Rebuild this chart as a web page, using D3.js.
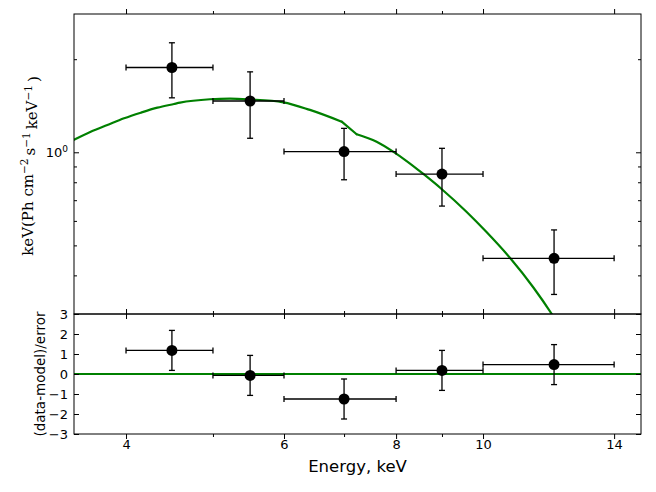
<!DOCTYPE html>
<html>
<head>
<meta charset="utf-8">
<script src="https://cdn.jsdelivr.net/npm/d3@7/dist/d3.min.js"></script>
<style>
  html, body { margin: 0; padding: 0; background: #fff; }
  svg { display: block; }
</style>
</head>
<body>
<script>
// ---- data ----
const energy   = [4.5, 5.5, 7.0, 9.0, 12.0];
const binLo    = [4, 5, 6, 8, 10];
const binHi    = [5, 6, 8, 10, 14];
const flux     = [1.88, 1.465, 1.005, 0.85, 0.454];
const fluxErr  = [0.38, 0.355, 0.19, 0.18, 0.107];
const resid    = [1.18, -0.07, -1.25, 0.18, 0.47];
const residErr = [1, 1, 1, 1, 1];

// model below the iron edge
const modelE1 = [3.5, 3.653, 3.813, 3.98, 4.154, 4.335, 4.524, 4.595, 4.962, 5.224, 5.499, 5.99, 6.413, 6.958];
const modelF1 = [1.098, 1.166, 1.226, 1.288, 1.343, 1.394, 1.433, 1.447, 1.484, 1.491, 1.482, 1.451, 1.371, 1.256];
// model above the iron edge
const modelE2 = [7.23, 7.61, 7.94, 8.22, 8.58, 8.99, 9.59, 10.09, 10.72, 11.38, 11.93, 12.5];
const modelF2 = [1.144, 1.082, 1.005, 0.937, 0.851, 0.761, 0.641, 0.552, 0.455, 0.3654, 0.3, 0.242];

const xTickVals   = [4, 6, 8, 10, 14];
const xTickLabels = ["4", "6", "8", "10", "14"];
const xMinorVals  = [5, 7, 9];
const yTopMajor   = [1];
const yTopMinor   = [0.3, 0.4, 0.5, 0.6, 0.7, 0.8, 0.9, 2];
const yBotTicks   = [-3, -2, -1, 0, 1, 2, 3];

// ---- layout ----
const W = 656, H = 492;
const L = 74, R = 641, T = 14, MID = 314, B = 434;
const GREEN = "#008000";
const MAJ = 5, MIN = 3;

const svg = d3.select("body").append("svg").attr("width", W).attr("height", H);

const x = d3.scaleLog().domain([3.5, 15]).range([L, R]);
const yT = d3.scaleLog().domain([0.3, 2.8]).range([MID, T]);
const yB = d3.scaleLinear().domain([-3, 3]).range([B, MID]);

svg.append("defs").append("clipPath").attr("id", "clipTop")
  .append("rect").attr("x", L).attr("y", T).attr("width", R - L).attr("height", MID - T);

// ---- model curve (top) ----
const smooth = d3.line().x(d => x(d[0])).y(d => yT(d[1])).curve(d3.curveMonotoneX);
const straight = d3.line().x(d => x(d[0])).y(d => yT(d[1]));
const seg1 = modelE1.map((e, i) => [e, modelF1[i]]);
const seg2 = modelE2.map((e, i) => [e, modelF2[i]]);
const gModel = svg.append("g").attr("clip-path", "url(#clipTop)")
  .attr("fill", "none").attr("stroke", GREEN).attr("stroke-width", 2.2)
  .attr("stroke-linejoin", "round").attr("stroke-linecap", "round");
gModel.append("path").attr("d", smooth(seg1));
gModel.append("path").attr("d", straight([seg1[seg1.length - 1], seg2[0]]));
gModel.append("path").attr("d", smooth(seg2));

// ---- zero line (bottom) ----
svg.append("line")
  .attr("x1", L).attr("x2", R).attr("y1", yB(0)).attr("y2", yB(0))
  .attr("stroke", GREEN).attr("stroke-width", 2);

// ---- error bars & points ----
function drawPoints(yScale, vals, errs) {
  const g = svg.append("g").attr("stroke", "#000").attr("stroke-width", 1.3);
  const cap = 3;
  vals.forEach((v, i) => {
    const cx = x(energy[i]), cy = yScale(v);
    const x0 = x(binLo[i]), x1 = x(binHi[i]);
    const yU = yScale(v + errs[i]), yD = yScale(v - errs[i]);
    g.append("line").attr("x1", x0).attr("x2", x1).attr("y1", cy).attr("y2", cy);
    g.append("line").attr("x1", x0).attr("x2", x0).attr("y1", cy - cap).attr("y2", cy + cap);
    g.append("line").attr("x1", x1).attr("x2", x1).attr("y1", cy - cap).attr("y2", cy + cap);
    g.append("line").attr("x1", cx).attr("x2", cx).attr("y1", yU).attr("y2", yD);
    g.append("line").attr("x1", cx - cap).attr("x2", cx + cap).attr("y1", yU).attr("y2", yU);
    g.append("line").attr("x1", cx - cap).attr("x2", cx + cap).attr("y1", yD).attr("y2", yD);
  });
  svg.append("g").selectAll("circle").data(vals).join("circle")
    .attr("cx", (d, i) => x(energy[i])).attr("cy", d => yScale(d))
    .attr("r", 5.5).attr("fill", "#000");
}
drawPoints(yT, flux, fluxErr);
drawPoints(yB, resid, residErr);

// ---- axes ----
function styleAxis(g) {
  g.select(".domain").remove();
  g.selectAll(".tick line").attr("stroke", "#000").attr("stroke-width", 1);
  g.selectAll("text").attr("fill", "#000")
    .style("font-family", "'DejaVu Sans', sans-serif").style("font-size", "13px");
}
function ticksOnly(axis, yPos, xPos, vals, size) {
  const g = svg.append("g").attr("transform", `translate(${xPos},${yPos})`)
    .call(axis.tickValues(vals).tickSize(size).tickFormat(""));
  styleAxis(g);
  return g;
}
// x ticks, both panels, top and bottom edges
[[T, 1], [MID, -1], [MID, 1], [B, -1]].forEach(([yy, dir]) => {
  ticksOnly(d3.axisBottom(x), yy, 0, xTickVals, -MAJ * dir);
  ticksOnly(d3.axisBottom(x), yy, 0, xMinorVals, -MIN * dir);
});
// x labels
{
  const g = svg.append("g").attr("transform", `translate(0,${B})`)
    .call(d3.axisBottom(x).tickValues(xTickVals).tickSize(0).tickPadding(6)
      .tickFormat((d, i) => xTickLabels[i]));
  styleAxis(g);
}
// y ticks, left and right
[[L, 1], [R, -1]].forEach(([xx, dir]) => {
  ticksOnly(d3.axisLeft(yT), 0, xx, yTopMajor, -MAJ * dir);
  ticksOnly(d3.axisLeft(yT), 0, xx, yTopMinor, -MIN * dir);
  ticksOnly(d3.axisLeft(yB), 0, xx, yBotTicks, -MAJ * dir);
});
// top y label 10^0
{
  const g = svg.append("g").attr("transform", `translate(${L},0)`)
    .call(d3.axisLeft(yT).tickValues(yTopMajor).tickSize(0).tickPadding(6).tickFormat(""));
  styleAxis(g);
  g.selectAll(".tick text").each(function () {
    const t = d3.select(this);
    t.append("tspan").text("10");
    t.append("tspan").text("0").attr("dy", "-0.5em").style("font-size", "9px");
  });
}
// bottom y labels
{
  const g = svg.append("g").attr("transform", `translate(${L},0)`)
    .call(d3.axisLeft(yB).tickValues(yBotTicks).tickSize(0).tickPadding(6)
      .tickFormat(d => d < 0 ? "\u2212" + Math.abs(d) : String(d)));
  styleAxis(g);
}

// ---- frames ----
svg.append("rect").attr("x", L).attr("y", T).attr("width", R - L).attr("height", MID - T)
  .attr("fill", "none").attr("stroke", "#000").attr("stroke-width", 1);
svg.append("rect").attr("x", L).attr("y", MID).attr("width", R - L).attr("height", B - MID)
  .attr("fill", "none").attr("stroke", "#000").attr("stroke-width", 1);

// ---- axis titles ----
svg.append("text").attr("x", (L + R) / 2).attr("y", 472).attr("text-anchor", "middle")
  .style("font-family", "'DejaVu Sans', sans-serif").style("font-size", "16.5px")
  .text("Energy, keV");

svg.append("text").attr("transform", "translate(45,374) rotate(-90)")
  .attr("text-anchor", "middle")
  .style("font-family", "'DejaVu Sans', sans-serif").style("font-size", "13.5px")
  .text("(data-model)/error");

{
  const t = svg.append("text").attr("transform", "translate(33,166) rotate(-90)")
    .attr("text-anchor", "middle")
    .style("font-family", "'DejaVu Serif', serif").style("font-size", "15px");
  const parts = [["keV(Ph cm", 0], ["\u22122", 1], ["s", 0], ["\u22121", 1], ["keV", 0], ["\u22121", 1], [")", 0]];
  let prevSup = false;
  parts.forEach(([s, sup], i) => {
    const sp = t.append("tspan").text((sup === 0 && i > 0 ? "\u2009" : "") + s);
    if (sup) { sp.attr("dy", "-0.45em").style("font-size", "10.5px"); prevSup = true; }
    else if (prevSup) { sp.attr("dy", "0.45em"); prevSup = false; }
  });
}
</script>
</body>
</html>
